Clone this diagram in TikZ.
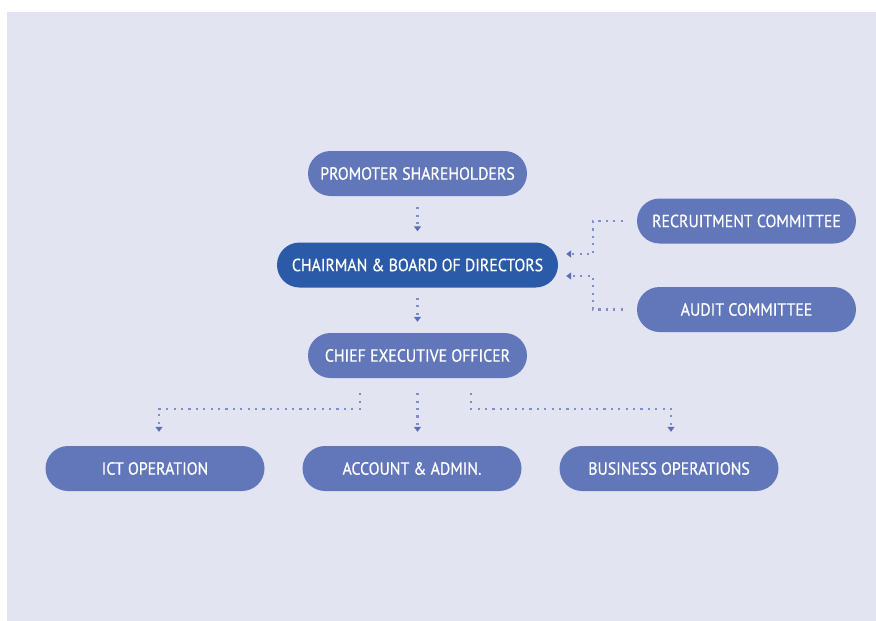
\documentclass[tikz,border=0pt]{standalone}
\usepackage{fontspec}
\setmainfont{PT Sans}[FakeStretch=0.9, FakeBold=0.6]
\usetikzlibrary{arrows.meta}
\definecolor{bgc}{HTML}{E2E4F1}
\definecolor{boxc}{HTML}{6277BA}
\definecolor{chairc}{HTML}{2B5BA8}
\definecolor{dotc}{HTML}{7F8ECA}
\definecolor{tipc}{HTML}{5B6EB5}
\tikzset{
  orgbox/.style={fill=boxc, text=white, rounded corners=22.5pt, minimum width=219pt,
    minimum height=45pt, inner sep=0pt, font=\fontsize{17.6}{20}\selectfont},
  dotline/.style={draw=dotc, line width=2.2pt, dash pattern=on 2.2pt off 5.2pt,
    -{Triangle[width=7pt,length=5pt,color=tipc]}},
}
\begin{document}
\begin{tikzpicture}[x=1pt,y=-1pt]
\useasboundingbox (0,0) rectangle (876,621);
\fill[white] (0,0) rectangle (876,621);
\fill[bgc] (7,12) rectangle (876,621);

\node[orgbox] (prom) at (417.5,173.5) {PROMOTER SHAREHOLDERS};
\node[orgbox, fill=chairc, minimum width=281pt] (chair) at (417.5,265) {CHAIRMAN \& BOARD OF DIRECTORS};
\node[orgbox] (rec) at (746.5,221) {RECRUITMENT COMMITTEE};
\node[orgbox] (aud) at (746.5,309.5) {AUDIT COMMITTEE};
\node[orgbox] (ceo) at (417.5,355.5) {CHIEF EXECUTIVE OFFICER};
\node[orgbox] (ict) at (155,468.5) {ICT OPERATION};
\node[orgbox] (acc) at (412,468.5) {ACCOUNT \& ADMIN.};
\node[orgbox] (bus) at (669,468.5) {BUSINESS OPERATIONS};

% reporting lines
\draw[dotline] ([yshift=-11pt]prom.south) -- ([yshift=11pt]chair.north);
\draw[dotline] ([yshift=-10pt]chair.south) -- ([yshift=11pt]ceo.north);

% committees
\draw[dotline] ([xshift=-14pt]rec.west) -| ([shift={(35pt,11pt)}]chair.east) -- ([shift={(8pt,11pt)}]chair.east);
\draw[dotline] ([xshift=-14pt]aud.west) -| ([shift={(35pt,-11pt)}]chair.east) -- ([shift={(8pt,-11pt)}]chair.east);

% departments
\draw[dotline] ([shift={(-57.5pt,-15pt)}]ceo.south) |- ([shift={(4pt,37pt)}]ict.north) -- ([shift={(4pt,14pt)}]ict.north);
\draw[dotline] ([yshift=-15pt]ceo.south) -- ([yshift=14pt]acc.north -| ceo.south);
\draw[dotline] ([shift={(53.5pt,-15pt)}]ceo.south) |- ([shift={(2pt,37pt)}]bus.north) -- ([shift={(2pt,14pt)}]bus.north);
\end{tikzpicture}
\end{document}
